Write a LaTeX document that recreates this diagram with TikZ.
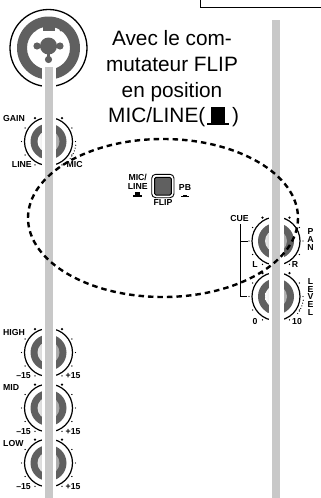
\documentclass[tikz,border=0pt]{standalone}
\usepackage{fontspec}
\setmainfont{Liberation Sans}
\definecolor{bar}{HTML}{C8C8C8}
\definecolor{dk}{HTML}{606060}
\newcommand{\lab}{\fontsize{8.7}{9}\selectfont\bfseries}
\tikzset{
  x=1pt,y=-1pt,
  tag/.style={inner sep=0pt,font=\lab},
  body/.style={inner sep=0pt,anchor=base,font=\fontsize{20.8}{21}\selectfont},
  pics/knob/.style={code={
    \fill[dk] (0,0) circle[radius=18];
    \shade[left color=#1,right color=gray!70] (0,0) circle[radius=11];
    \draw[line width=1.2pt] (0,0) circle[radius=24];
    \foreach \a in {210,180,150,120,60,30,0,-30}
      \fill (\a:27) circle[radius=0.7];
    \foreach \a in {240,-60}
      \fill (\a:27) circle[radius=1.3];
  }},
  pics/fine/.style={code={
    \foreach \a in {8,14,20,26,32,38}
      \fill (\a:27.5) circle[radius=0.6];
    \fill[dk] (-8.5,15) circle[radius=1.2];
  }}
}
\begin{document}
\begin{tikzpicture}
\useasboundingbox (0,0) rectangle (321,498);
% top frame
\draw[line width=1.2pt] (200.5,-2) -- (200.5,7.5) -- (323,7.5);
% jack
\draw[line width=1.3pt] (48.5,48) circle[radius=38.5];
\fill[dk,even odd rule] (48.5,48) circle[radius=31.5] (48.5,48) circle[radius=21.5];
\fill[dk] (42.5,24) rectangle (55,30.5);
\fill[dk] (35,30) circle[radius=1.6] (61,30) circle[radius=1.6];
\fill[dk] (48.5,46) circle[radius=8.5] (37,46) circle[radius=3.6] (60,46) circle[radius=3.6] (48.5,59.5) circle[radius=3.6];
\fill[dk] (37,44.5) rectangle (60,47.5);
\fill[dk] (47,46) rectangle (50,59);
% knobs
\pic at (48.5,141.5) {knob=white};
\pic at (48.5,141.5) {fine};
\pic at (48.5,352.5) {knob=gray!20};
\pic at (48.5,408) {knob=gray!20};
\pic at (48.5,463) {knob=gray!20};
\pic at (276,241) {knob=gray!20};
\pic at (276,296.5) {knob=white};
\pic at (276,296.5) {fine};
% strips and bars
\fill[white] (41.5,66) rectangle (56,498);
\fill[white] (268.5,20) rectangle (283.5,498);
\fill[bar] (45,67) rectangle (52.7,498);
\fill[bar] (272,20) rectangle (280,498);
% main text
\node[body] (t1) at (172,45) {Avec le com-};
\node[body] (t2) at (172,71.5) {mutateur FLIP};
\node[body] (t3) at (172,97.5) {en position};
\node[body,anchor=base east] (t4) at (205.5,122) {MIC/LINE(};
\node[body,anchor=base west] (t5) at (232,122) {)};
\fill (207,122.5) rectangle (229,125);
\fill (211,107) rectangle (225,123);
% knob labels
\node[tag,anchor=west] (gain) at (3,119) {GAIN};
\node[tag,anchor=east] (line) at (32,165) {LINE};
\node[tag,anchor=west] (mic) at (66.5,165) {MIC};
\node[tag,anchor=west] (high) at (3,332.5) {HIGH};
\node[tag,anchor=west] (mid) at (3,388) {MID};
\node[tag,anchor=west] (low) at (3,443) {LOW};
\foreach \n/\y in {a/376,b/431.7,c/486.7}{
  \node[tag,anchor=east] (m\n) at (31,\y) {–15};
  \node[tag,anchor=west] (p\n) at (65.5,\y) {+15};
}
% flip switch
\node[tag] (mic2) at (137.7,177.7) {MIC/};
\node[tag] (line2) at (137.7,186.7) {LINE};
\fill (133,194.5) rectangle (142,196.5);
\fill (135,191.5) rectangle (140,195);
\node[tag] (flip) at (163,203) {FLIP};
\node[tag] (pb) at (185,188) {PB};
\fill (181,196) rectangle (189,197);
\fill (183,194.5) rectangle (187,196);
\draw[line width=0.9pt,rounded corners=4pt] (151.7,174.3) rectangle (174,197.7);
\draw[fill=dk,line width=1pt,rounded corners=1.5pt] (154.5,177.3) rectangle (171.3,195);
% cue bracket
\node[tag] (cue) at (239.5,219) {CUE};
\coordinate (c1) at (240,224);
\coordinate (c2) at (248,241);
\coordinate (c3) at (247,296.5);
\draw[line width=1pt] (c1) -- (240,296.5) -- (c3);
\draw[line width=1pt] (240,241) -- (c2);
% right labels
\node[tag] (l) at (255,265) {L};
\node[tag] (r) at (295,265) {R};
\node[tag] (n0) at (255,321) {0};
\node[tag] (n10) at (297,321) {10};
\foreach \c/\y [count=\i] in {P/232,A/240,N/248}
  \node[tag] (pan\i) at (310.5,\y) {\c};
\foreach \c/\y [count=\i] in {L/282,E/289.5,V/297,E/304.5,L/312.5}
  \node[tag] (lev\i) at (310.5,\y) {\c};
% dashed ellipse
\draw[line width=2.4pt,dash pattern=on 5.5pt off 4pt] (163,218) ellipse[x radius=135,y radius=79];
\end{tikzpicture}
\end{document}
